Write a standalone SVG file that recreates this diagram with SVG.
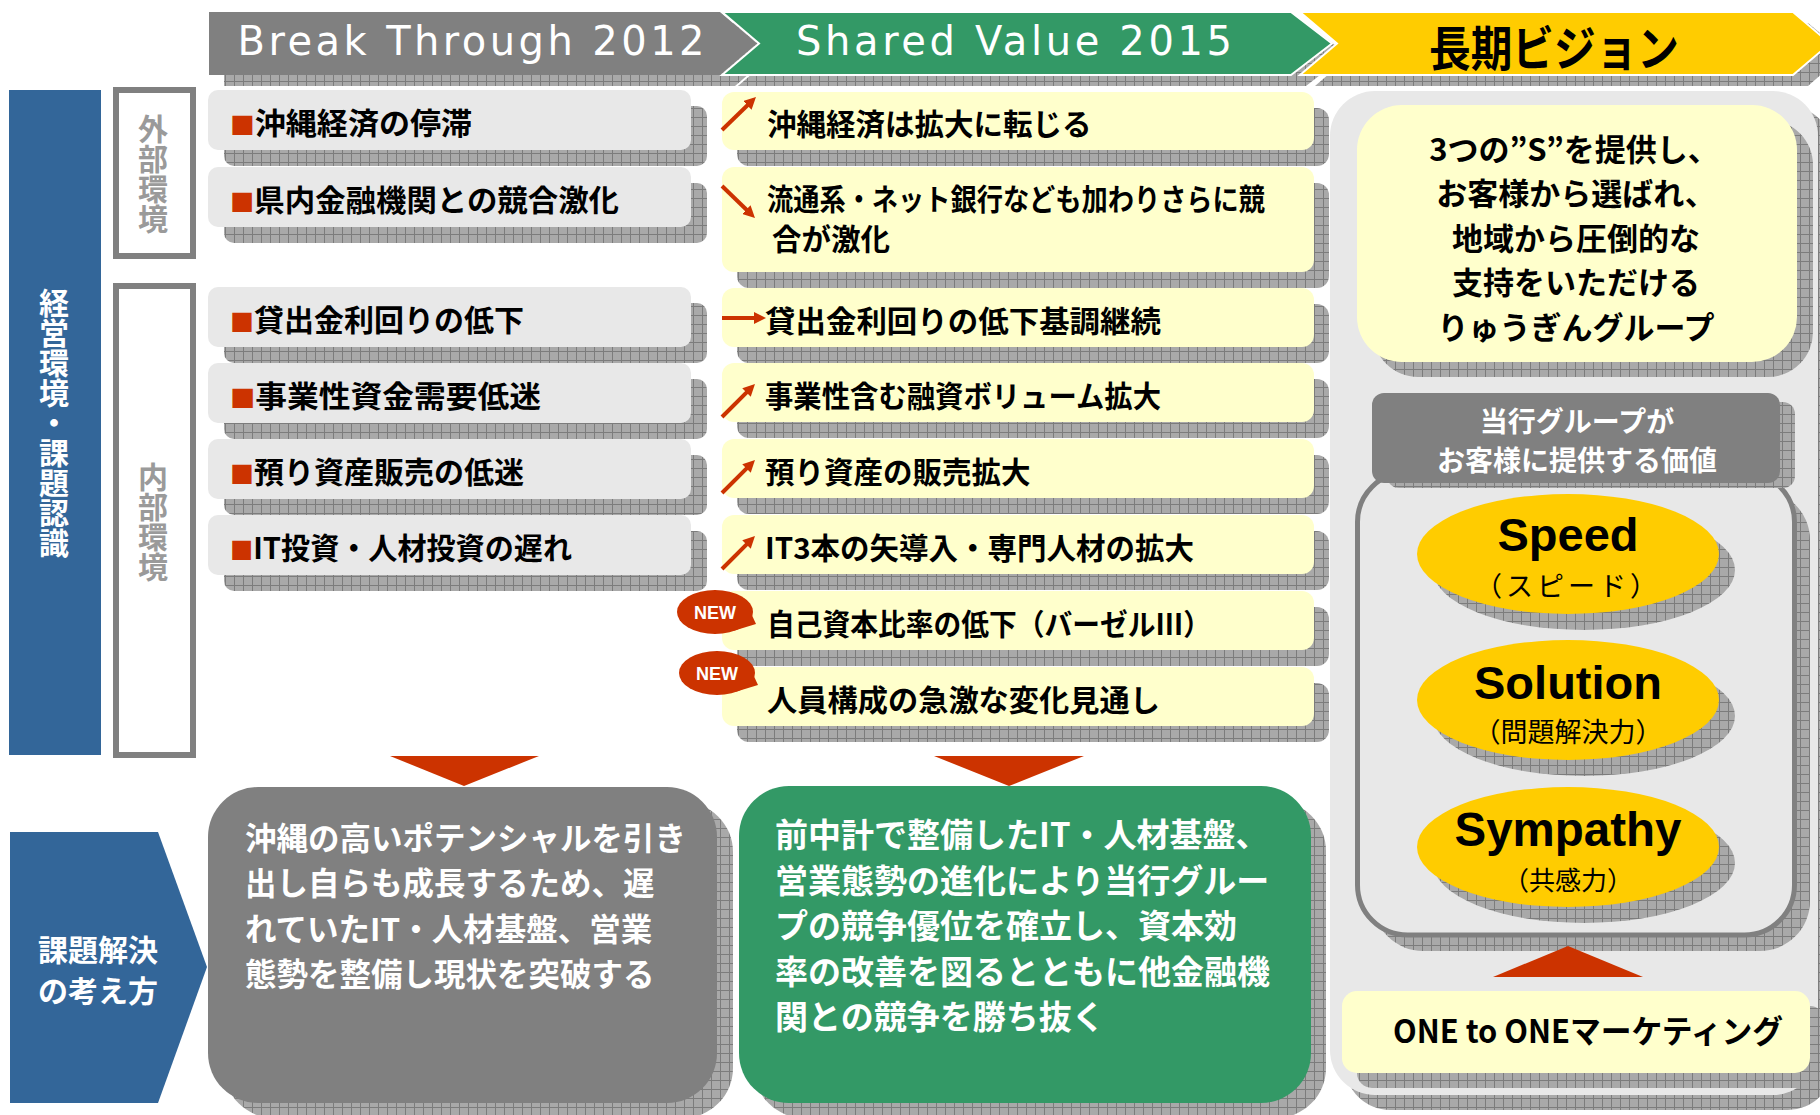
<svg xmlns="http://www.w3.org/2000/svg" width="1820" height="1115" viewBox="0 0 1820 1115">
<defs>
<pattern id="hatch" width="9" height="9" patternUnits="userSpaceOnUse">
<rect width="9" height="9" fill="#a9a9a9"/>
<path d="M0 0.5H9M0.5 0V9" stroke="#7c7c7c" stroke-width="1"/>
</pattern>
<marker id="ah" viewBox="0 0 12 12" markerWidth="12" markerHeight="12" markerUnits="userSpaceOnUse" refX="2" refY="6" orient="auto">
<path d="M0,0 L12,6 L0,12 Z" fill="#cc3300"/>
</marker>
<style>
.sh{fill:url(#hatch)}
.lb{fill:#e8e8e8}
.yb{fill:#ffffcc}
.jp{font-family:"Noto Sans CJK JP","Noto Sans CJK SC",sans-serif;font-weight:700}
.t30{font-size:30px;fill:#000}
.t29{font-size:29.5px;fill:#000}
.bul{fill:#cc3300;font-size:24px}
.wt{fill:#fff}
.vt{writing-mode:vertical-rl;text-anchor:middle}
.arr{stroke:#cc3300;stroke-width:4;fill:none;marker-end:url(#ah)}
.red{fill:#cc3300}
.en{font-family:"Liberation Sans",Arial,sans-serif;font-weight:700;text-anchor:middle;fill:#000}
.sub{font-family:"Noto Sans CJK JP",sans-serif;font-weight:400;text-anchor:middle;fill:#000}
</style>
</defs>
<rect width="1820" height="1115" fill="#fff"/>

<!-- header -->
<g id="header-bt2012">
<polygon class="sh" points="224,23 735,23 772,54 735,86 224,86"/>
<polygon points="209,12 720,12 757,43.5 720,75 209,75" fill="#808080"/>
<text x="471" y="55" text-anchor="middle" font-family="DejaVu Sans, sans-serif" font-size="40" fill="#fff" textLength="467" lengthAdjust="spacing">Break Through 2012</text>
</g>
<g id="header-sv2015">
<polygon class="sh" points="738,23 1306,23 1347,54 1306,86 738,86 775,54"/>
<polygon points="722,12 1291,12 1332,43.5 1291,75 722,75 759,43.5" fill="#339966" stroke="#fff" stroke-width="2"/>
<text x="1014" y="55" text-anchor="middle" font-family="DejaVu Sans, sans-serif" font-size="40" fill="#fff" textLength="436" lengthAdjust="spacing">Shared Value 2015</text>
</g>
<g id="header-vision">
<polygon class="sh" points="1315,23 1808,23 1845,54 1808,86 1315,86 1352,54"/>
<polygon points="1300,12 1793,12 1830,43.5 1793,75 1300,75 1337,43.5" fill="#ffcc00" stroke="#fff" stroke-width="2"/>
<text x="1554" y="66" text-anchor="middle" class="jp" font-size="48" fill="#000" textLength="250" lengthAdjust="spacingAndGlyphs">長期ビジョン</text>
</g>

<!-- left labels -->
<g id="label-keiei">
<rect x="9" y="90" width="92" height="665" fill="#336699"/>
<text x="54" y="423" class="jp wt vt" font-size="30">経営環境・課題認識</text>
</g>
<g id="label-gaibu">
<rect x="116" y="90" width="77" height="166" fill="#fff" stroke="#808080" stroke-width="6"/>
<text x="153" y="174" class="jp vt" font-size="30" fill="#9a9a9a">外部環境</text>
</g>
<g id="label-naibu">
<rect x="116" y="286" width="77" height="469" fill="#fff" stroke="#808080" stroke-width="6"/>
<text x="153" y="522" class="jp vt" font-size="30" fill="#9a9a9a">内部環境</text>
</g>

<!-- left items -->
<g id="bt-1"><rect class="sh" x="224" y="106" width="483" height="60" rx="10"/><rect class="lb" x="208" y="90" width="483" height="60" rx="10"/>
<text x="230" y="134" class="jp t30" textLength="242" lengthAdjust="spacingAndGlyphs"><tspan class="bul">■</tspan>沖縄経済の停滞</text></g>
<g id="bt-2"><rect class="sh" x="224" y="183" width="483" height="60" rx="10"/><rect class="lb" x="208" y="167" width="483" height="60" rx="10"/>
<text x="230" y="211" class="jp t30" textLength="389" lengthAdjust="spacingAndGlyphs"><tspan class="bul">■</tspan>県内金融機関との競合激化</text></g>
<g id="bt-3"><rect class="sh" x="224" y="303" width="483" height="60" rx="10"/><rect class="lb" x="208" y="287" width="483" height="60" rx="10"/>
<text x="230" y="331" class="jp t30"><tspan class="bul">■</tspan>貸出金利回りの低下</text></g>
<g id="bt-4"><rect class="sh" x="224" y="379" width="483" height="60" rx="10"/><rect class="lb" x="208" y="363" width="483" height="60" rx="10"/>
<text x="230" y="407" class="jp t30" textLength="311" lengthAdjust="spacingAndGlyphs"><tspan class="bul">■</tspan>事業性資金需要低迷</text></g>
<g id="bt-5"><rect class="sh" x="224" y="455" width="483" height="60" rx="10"/><rect class="lb" x="208" y="439" width="483" height="60" rx="10"/>
<text x="230" y="483" class="jp t30"><tspan class="bul">■</tspan>預り資産販売の低迷</text></g>
<g id="bt-6"><rect class="sh" x="224" y="531" width="483" height="60" rx="10"/><rect class="lb" x="208" y="515" width="483" height="60" rx="10"/>
<text x="230" y="559" class="jp t30" textLength="342" lengthAdjust="spacingAndGlyphs"><tspan class="bul">■</tspan>IT投資・人材投資の遅れ</text></g>

<!-- right items -->
<g id="sv-1"><rect class="sh" x="737" y="108" width="592" height="58" rx="12"/><rect class="yb" x="722" y="92" width="592" height="58" rx="12"/>
<text x="767" y="135" class="jp t29">沖縄経済は拡大に転じる</text></g>
<g id="sv-2"><rect class="sh" x="737" y="183" width="592" height="105" rx="12"/><rect class="yb" x="722" y="167" width="592" height="105" rx="12"/>
<text class="jp t29"><tspan x="767" y="210" textLength="498" lengthAdjust="spacingAndGlyphs">流通系・ネット銀行なども加わりさらに競</tspan><tspan x="772" y="250">合が激化</tspan></text></g>
<g id="sv-3"><rect class="sh" x="737" y="304" width="592" height="59" rx="12"/><rect class="yb" x="722" y="288" width="592" height="59" rx="12"/>
<text x="765" y="332" class="jp t29" textLength="396" lengthAdjust="spacingAndGlyphs">貸出金利回りの低下基調継続</text></g>
<g id="sv-4"><rect class="sh" x="737" y="379" width="592" height="59" rx="12"/><rect class="yb" x="722" y="363" width="592" height="59" rx="12"/>
<text x="765" y="407" class="jp t29" textLength="396" lengthAdjust="spacingAndGlyphs">事業性含む融資ボリューム拡大</text></g>
<g id="sv-5"><rect class="sh" x="737" y="455" width="592" height="59" rx="12"/><rect class="yb" x="722" y="439" width="592" height="59" rx="12"/>
<text x="765" y="483" class="jp t29">預り資産の販売拡大</text></g>
<g id="sv-6"><rect class="sh" x="737" y="531" width="592" height="59" rx="12"/><rect class="yb" x="722" y="515" width="592" height="59" rx="12"/>
<text x="765" y="559" class="jp t29">IT3本の矢導入・専門人材の拡大</text></g>
<g id="sv-7"><rect class="sh" x="737" y="607" width="592" height="59" rx="12"/><rect class="yb" x="722" y="591" width="592" height="59" rx="12"/>
<text x="767" y="635" class="jp t29" textLength="444" lengthAdjust="spacingAndGlyphs">自己資本比率の低下（バーゼルⅢ）</text></g>
<g id="sv-8"><rect class="sh" x="737" y="683" width="592" height="59" rx="12"/><rect class="yb" x="722" y="667" width="592" height="59" rx="12"/>
<text x="767" y="711" class="jp t29" textLength="393" lengthAdjust="spacingAndGlyphs">人員構成の急激な変化見通し</text></g>

<g id="new-1">
<path class="red" d="M744,598 L756,624 L733,631 Z"/>
<ellipse class="red" cx="715" cy="612" rx="38" ry="22"/>
<text x="715" y="619" text-anchor="middle" font-family="Liberation Sans, Arial, sans-serif" font-weight="700" font-size="18" fill="#fff">NEW</text>
</g>
<g id="new-2">
<path class="red" d="M746,659 L758,685 L735,692 Z"/>
<ellipse class="red" cx="717" cy="673" rx="38" ry="22"/>
<text x="717" y="680" text-anchor="middle" font-family="Liberation Sans, Arial, sans-serif" font-weight="700" font-size="18" fill="#fff">NEW</text>
</g>

<!-- bottom row -->
<g id="label-kadai">
<polygon points="10,832 158,832 207,967 158,1103 10,1103" fill="#336699"/>
<text text-anchor="middle" class="jp wt" font-size="30"><tspan x="98" y="961">課題解決</tspan><tspan x="98" y="1002">の考え方</tspan></text>
</g>
<g id="bt-solution">
<rect class="sh" x="224" y="802" width="509" height="316" rx="50"/>
<rect x="208" y="787" width="509" height="316" rx="50" fill="#808080"/>
<text class="jp wt" font-size="31.5"><tspan x="245" y="850">沖縄の高いポテンシャルを引き</tspan><tspan x="245" y="895">出し自らも成長するため、遅</tspan><tspan x="245" y="941">れていたIT・人材基盤、営業</tspan><tspan x="245" y="986">態勢を整備し現状を突破する</tspan></text>
</g>
<g id="sv-solution">
<rect class="sh" x="754" y="801" width="572" height="317" rx="50"/>
<rect x="739" y="786" width="572" height="317" rx="50" fill="#339966"/>
<text class="jp wt" font-size="33"><tspan x="775" y="847">前中計で整備したIT・人材基盤、</tspan><tspan x="775" y="893">営業態勢の進化により当行グルー</tspan><tspan x="775" y="938">プの競争優位を確立し、資本効</tspan><tspan x="775" y="984">率の改善を図るとともに他金融機</tspan><tspan x="775" y="1029">関との競争を勝ち抜く</tspan></text>
</g>

<!-- right vision panel -->
<g id="vision-panel">
<rect class="sh" x="1345" y="106" width="488" height="1004" rx="45"/>
<rect x="1330" y="91" width="488" height="1004" rx="45" fill="#e8e8e8"/>
</g>
<g id="vision-statement">
<rect class="sh" x="1373" y="120" width="440" height="257" rx="45"/>
<rect class="yb" x="1357" y="105" width="440" height="257" rx="45"/>
<text class="jp" font-size="31" text-anchor="middle" fill="#000"><tspan x="1574" y="161">3つの”S”を提供し、</tspan><tspan x="1576" y="205">お客様から選ばれ、</tspan><tspan x="1576" y="250">地域から圧倒的な</tspan><tspan x="1576" y="294">支持をいただける</tspan><tspan x="1576" y="339">りゅうぎんグループ</tspan></text>
</g>
<g id="value-panel">
<rect class="sh" x="1373" y="490" width="437" height="461" rx="50"/>
<rect x="1357.5" y="472" width="437" height="463" rx="50" fill="#e8e8e8" stroke="#808080" stroke-width="5"/>
</g>
<g id="value-header">
<rect class="sh" x="1387" y="402" width="408" height="86" rx="12"/>
<rect x="1372" y="393" width="408" height="90" rx="12" fill="#808080"/>
<text text-anchor="middle" class="jp wt" font-size="28"><tspan x="1577" y="432">当行グループが</tspan><tspan x="1577" y="471">お客様に提供する価値</tspan></text>
</g>
<g id="value-speed">
<ellipse class="sh" cx="1584" cy="570" rx="151" ry="60"/>
<ellipse cx="1568" cy="554" rx="151" ry="60" fill="#ffcc00"/>
<text x="1568" y="551" class="en" font-size="47">Speed</text>
<text x="1568" y="596" class="sub" font-size="27" letter-spacing="4">（スピード）</text>
</g>
<g id="value-solution">
<ellipse class="sh" cx="1584" cy="716" rx="151" ry="60"/>
<ellipse cx="1568" cy="700" rx="151" ry="60" fill="#ffcc00"/>
<text x="1568" y="699" class="en" font-size="47">Solution</text>
<text x="1568" y="742" class="sub" font-size="27">（問題解決力）</text>
</g>
<g id="value-sympathy">
<ellipse class="sh" cx="1584" cy="863" rx="151" ry="60"/>
<ellipse cx="1568" cy="847" rx="151" ry="60" fill="#ffcc00"/>
<text x="1568" y="846" class="en" font-size="47.5">Sympathy</text>
<text x="1568" y="890" class="sub" font-size="26">（共感力）</text>
</g>
<g id="one-to-one">
<rect class="sh" x="1357" y="1006" width="468" height="82" rx="15"/>
<rect class="yb" x="1342" y="991" width="468" height="82" rx="15"/>
<text x="1393" y="1043" class="jp" font-size="32" fill="#000" textLength="390" lengthAdjust="spacingAndGlyphs">ONE to ONEマーケティング</text>
</g>

<!-- connectors -->
<g id="connectors">
<line class="arr" x1="722" y1="130" x2="748.8" y2="104"/>
<line class="arr" x1="722" y1="186" x2="747.8" y2="211"/>
<line class="arr" x1="722" y1="318" x2="756" y2="318"/>
<line class="arr" x1="722" y1="417" x2="747.9" y2="391.1"/>
<line class="arr" x1="722" y1="493" x2="747.9" y2="467.1"/>
<line class="arr" x1="722" y1="569" x2="747.9" y2="543.1"/>
<polygon class="red" points="390,756 539,756 464,786"/>
<polygon class="red" points="934,756 1084,756 1009,786"/>
<polygon class="red" points="1493,977 1643,977 1568,946"/>
</g>
</svg>
